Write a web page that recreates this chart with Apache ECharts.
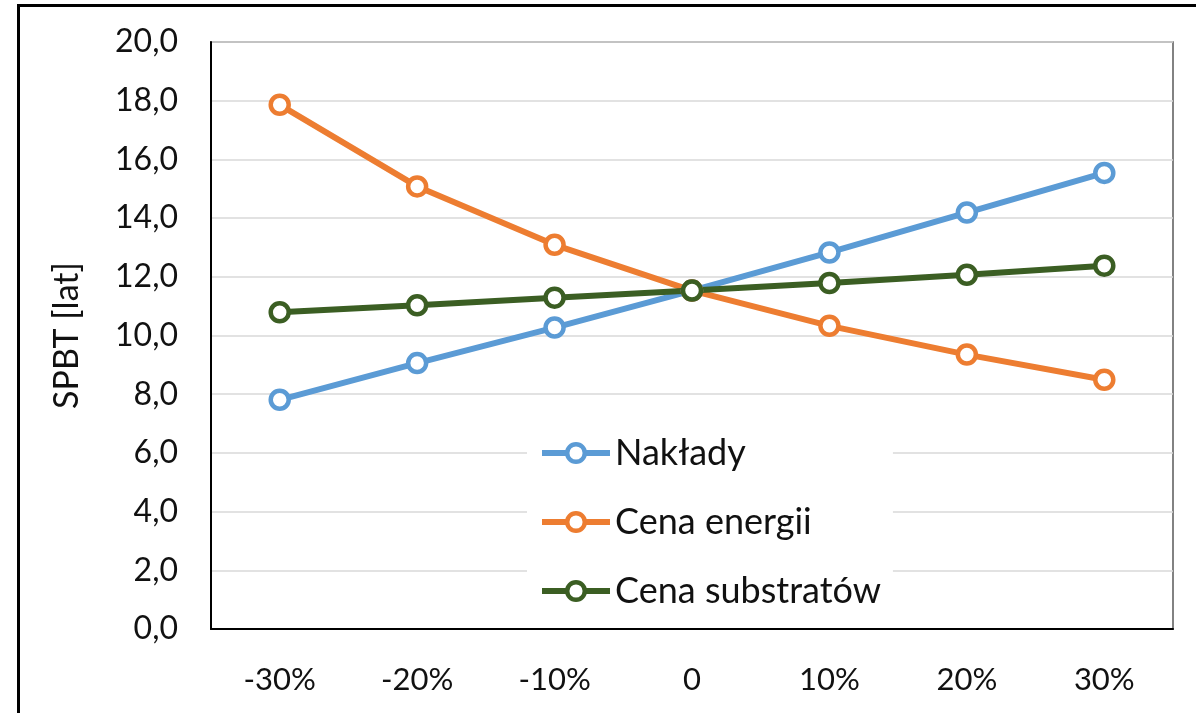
<!DOCTYPE html>
<html><head><meta charset="utf-8">
<script src="https://cdn.jsdelivr.net/npm/echarts@6/dist/echarts.min.js"></script>
<style>html,body{margin:0;padding:0;background:#fff;}#c{width:1196px;height:713px;}</style>
</head><body><div id="c"></div>
<script>
const categories = ['-30%', '-20%', '-10%', '0', '10%', '20%', '30%'];
const naklady = [7.81, 9.06, 10.27, 11.53, 12.83, 14.19, 15.54];
const cenaEnergii = [17.86, 15.08, 13.09, 11.53, 10.33, 9.35, 8.49];
const cenaSubstratow = [10.79, 11.03, 11.29, 11.53, 11.79, 12.07, 12.38];
const seriesNames = ['Nakłady', 'Cena energii', 'Cena substratów'];
const colors = ['#5B9BD5', '#ED7D31', '#3B5E23'];
const yAxisName = 'SPBT [lat]';

const font = 'Lato, "Open Sans", sans-serif';
const chart = echarts.init(document.getElementById('c'));
const mk = (name, data, color) => ({
  name, type: 'line', data,
  symbol: 'circle', symbolSize: 18,
  lineStyle: { width: 6, color },
  itemStyle: { color: '#fff', borderWidth: 4.5, borderColor: color },
  emphasis: { disabled: true }
});
chart.setOption({
  animation: false,
  color: colors,
  graphic: [{
    type: 'rect', z: 100,
    shape: { x: 18.5, y: 5.5, width: 1300, height: 900 },
    style: { fill: 'none', stroke: '#000', lineWidth: 3 }
  }],
  grid: { left: 211, top: 42, width: 962, height: 587, show: true, borderColor: '#595959', borderWidth: 1.5, backgroundColor: 'transparent' },
  legend: {
    orient: 'vertical', left: 527, top: 426,
    backgroundColor: '#fff', padding: [8, 12, 8, 12],
    itemWidth: 68, itemHeight: 22, itemGap: 31,
    lineStyle: { width: 6 },
    itemStyle: { borderWidth: 4.5 },
    textStyle: { fontFamily: font, fontSize: 36, color: '#111', lineHeight: 38 },
    data: seriesNames
  },
  xAxis: {
    type: 'category', data: categories, boundaryGap: true,
    axisLine: { lineStyle: { color: '#000', width: 2 } },
    axisTick: { show: false },
    axisLabel: { fontFamily: font, fontSize: 31, color: '#111', margin: 35 }
  },
  yAxis: {
    type: 'value', min: 0, max: 20, interval: 2,
    name: yAxisName, nameLocation: 'middle', nameGap: 127,
    nameTextStyle: { fontFamily: font, fontSize: 34, color: '#111' },
    axisLine: { show: true, lineStyle: { color: '#000', width: 2 } },
    axisTick: { show: false },
    splitLine: { lineStyle: { color: '#d9d9d9', width: 1.5 } },
    axisLabel: { fontFamily: font, fontSize: 32, color: '#111', margin: 33,
      formatter: v => v.toFixed(1).replace('.', ',') }
  },
  series: [
    mk(seriesNames[0], naklady, colors[0]),
    mk(seriesNames[1], cenaEnergii, colors[1]),
    mk(seriesNames[2], cenaSubstratow, colors[2])
  ]
});
</script></body></html>
